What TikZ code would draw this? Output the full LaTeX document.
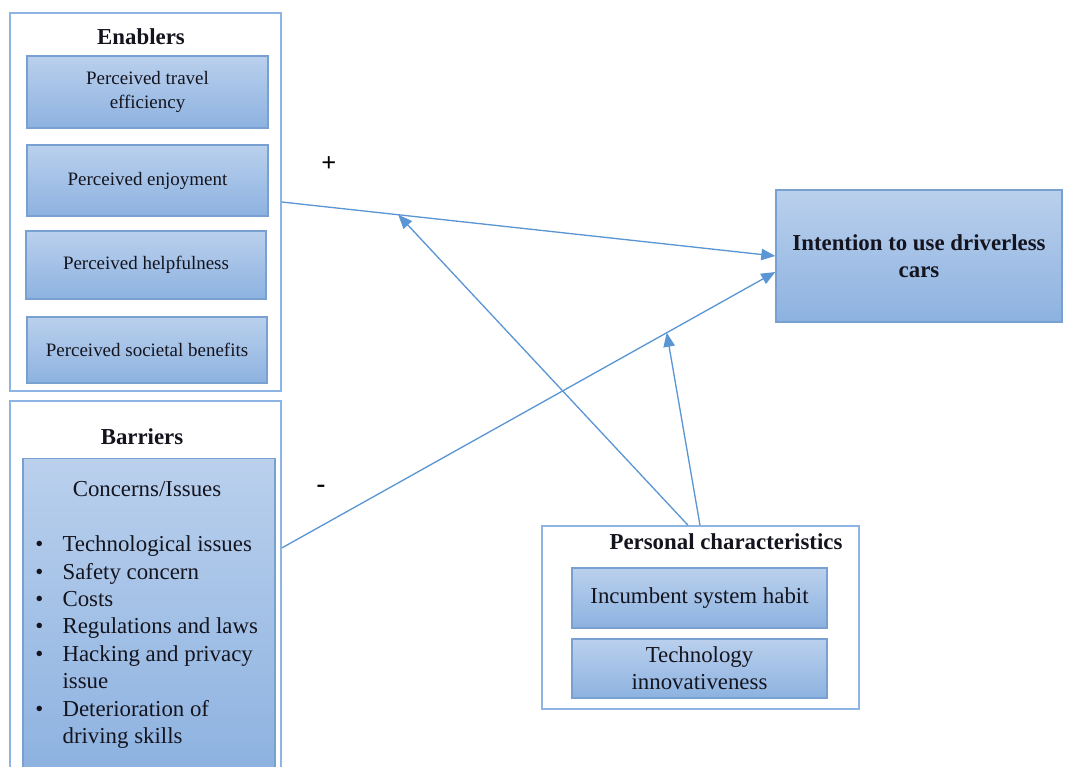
\documentclass[tikz,border=0pt]{standalone}
\usepackage{fontspec}
\setmainfont{Liberation Serif}
\usetikzlibrary{arrows.meta,calc}
\definecolor{boxtop}{RGB}{186,208,237}
\definecolor{boxbot}{RGB}{141,178,224}
\definecolor{boxedge}{RGB}{120,160,208}
\definecolor{outeredge}{RGB}{141,180,226}
\definecolor{linkc}{RGB}{91,150,212}
\definecolor{txt}{RGB}{20,20,30}
\tikzset{
  inbox/.style={draw=boxedge, line width=0.8pt, top color=boxtop, bottom color=boxbot, inner sep=0pt, align=center, text=txt},
  outbox/.style={draw=outeredge, line width=0.9pt, fill=white, inner sep=0pt},
  ttl/.style={font=\fontsize{13}{15}\selectfont\bfseries, text=txt, inner sep=0pt},
  link/.style={draw=linkc, line width=0.75pt, -{Triangle[length=8pt,width=6.5pt]}},
}
\begin{document}
\begin{tikzpicture}[x=0.02cm,y=-0.02cm]
\useasboundingbox[fill=white] (0,0) rectangle (1082,767);
% outer containers
\node[outbox, minimum width=5.42cm, minimum height=7.56cm] (enabl) at (145.5,202) {};
\node[outbox, minimum width=5.42cm, minimum height=7.48cm] (barr) at (145.5,775-187) {};
\node[outbox, minimum width=6.34cm, minimum height=3.66cm] (pers) at (700.5,617.5) {};
% titles
\node[ttl] (tEn) at (141,37) {Enablers};
\node[ttl] (tBa) at (142,437) {Barriers};
\node[ttl] (tPe) at (726,542) {Personal characteristics};
% enabler boxes
\begin{scope}[font=\fontsize{10.8}{13.5}\selectfont]
\node[inbox, minimum width=4.82cm, minimum height=1.44cm] (en1) at (147.5,92) {Perceived travel\\efficiency};
\node[inbox, minimum width=4.82cm, minimum height=1.42cm] (en2) at (147.5,180.5) {Perceived enjoyment};
\node[inbox, minimum width=4.80cm, minimum height=1.36cm] (en3) at (146,265) {Perceived helpfulness};
\node[inbox, minimum width=4.80cm, minimum height=1.32cm] (en4) at (147,350) {Perceived societal benefits};
\end{scope}
% concerns box
\node[inbox, minimum width=5.04cm, minimum height=6.30cm] (conc) at (149,616) {};
\node[font=\fontsize{13}{15}\selectfont, text=txt, inner sep=0pt] (concT) at (147,489) {Concerns/Issues};
\node[font=\fontsize{13}{15.6}\selectfont, text=txt, align=left, inner sep=0pt, anchor=north west] (concL) at (35,535.5) {%
\makebox[15.5pt][l]{\textbullet}Technological issues\\
\makebox[15.5pt][l]{\textbullet}Safety concern\\
\makebox[15.5pt][l]{\textbullet}Costs\\
\makebox[15.5pt][l]{\textbullet}Regulations and laws\\
\makebox[15.5pt][l]{\textbullet}Hacking and privacy\\
\hspace*{15.5pt}issue\\
\makebox[15.5pt][l]{\textbullet}Deterioration of\\
\hspace*{15.5pt}driving skills};
% intention
\node[inbox, minimum width=5.72cm, minimum height=2.64cm, font=\fontsize{13}{15.3}\selectfont\bfseries] (intent) at (919,256) {Intention to use driverless\\cars};
% personal boxes
\begin{scope}[font=\fontsize{13}{15.5}\selectfont]
\node[inbox, minimum width=5.10cm, minimum height=1.20cm] (habit) at (699.5,598) {Incumbent system habit};
\node[inbox, minimum width=5.10cm, minimum height=1.18cm] (innov) at (699.5,668.5) {Technology\\innovativeness};
\end{scope}
% signs
\node[font=\fontsize{15}{16}\selectfont\bfseries, inner sep=0pt] (plus) at (329,164) {+};
\node[font=\fontsize{15}{16}\selectfont\bfseries, inner sep=0pt] (minus) at (321,489) {-};
% connectors
\coordinate (e1) at (enabl.east);
\coordinate (i1) at (intent.west);
\coordinate (b1) at (barr.east |- 0,548);
\coordinate (i2) at ($(intent.west)+(0,16)$);
\coordinate (m1) at ($(e1)!0.236!(i1)$);
\coordinate (m2) at ($(b1)!0.78!(i2)$);
\coordinate (p1) at ($(pers.north)+(-12.5,0)$);
\coordinate (p2) at ($(pers.north)+(-0.5,0)$);
\draw[link] (e1) -- (i1);
\draw[link] (b1) -- (i2);
\draw[link] (p1) -- (m1);
\draw[link] (p2) -- (m2);
\end{tikzpicture}
\end{document}
